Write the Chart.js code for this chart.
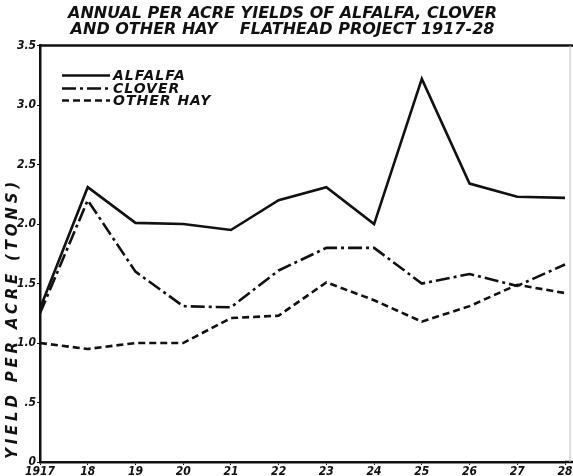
<!DOCTYPE html>
<html>
<head>
<meta charset="utf-8">
<script src="https://cdn.jsdelivr.net/npm/chart.js@4/dist/chart.umd.min.js"></script>
<style>
  html, body { margin: 0; padding: 0; background: #fff; }
  #c { display: block; }
</style>
</head>
<body>
<canvas id="c" width="573" height="476"></canvas>
<script>
// ---- data ----
const years = ['1917', '18', '19', '20', '21', '22', '23', '24', '25', '26', '27', '28'];
const alfalfa = [1.29, 2.31, 2.01, 2.0, 1.95, 2.2, 2.31, 2.0, 3.22, 2.34, 2.23, 2.22];
const clover = [1.25, 2.2, 1.6, 1.31, 1.3, 1.61, 1.8, 1.8, 1.5, 1.58, 1.48, 1.66];
const otherHay = [1.0, 0.95, 1.0, 1.0, 1.21, 1.23, 1.51, 1.36, 1.18, 1.31, 1.49, 1.42];
const yTickLabels = ['0', '.5', '1.0', '1.5', '2.0', '2.5', '3.0', '3.5'];
const titleLines = ['ANNUAL PER ACRE YIELDS OF ALFALFA, CLOVER', 'AND OTHER HAY    FLATHEAD PROJECT 1917-28'];
const yAxisTitle = 'YIELD PER ACRE (TONS)';
const seriesNames = ['ALFALFA', 'CLOVER', 'OTHER HAY'];

const INK = '#111';
const FONT = '"DejaVu Sans Condensed", "DejaVu Sans", sans-serif';
const WIDE = '"DejaVu Sans", sans-serif';

const dashSolid = [];
const dashDot = [14, 4, 3, 4];
const dashed = [7, 4];

const decor = {
  id: 'decor',
  afterDraw(chart) {
    const ctx = chart.ctx;
    const a = chart.chartArea;
    ctx.save();
    // top frame line
    ctx.strokeStyle = INK;
    ctx.lineWidth = 2.5;
    ctx.setLineDash([]);
    ctx.beginPath();
    ctx.moveTo(a.left - 1, a.top);
    ctx.lineTo(chart.width, a.top);
    ctx.stroke();
    // extend bottom axis to the right edge
    ctx.beginPath();
    ctx.moveTo(a.right, a.bottom);
    ctx.lineTo(chart.width, a.bottom);
    ctx.stroke();
    // faint right border
    ctx.strokeStyle = '#bbb';
    ctx.lineWidth = 1;
    ctx.beginPath();
    ctx.moveTo(chart.width - 3, a.top);
    ctx.lineTo(chart.width - 3, a.bottom);
    ctx.stroke();

    // legend inside plot
    const ds = chart.data.datasets;
    const lx0 = a.left + 22, lx1 = a.left + 70;
    const rows = [a.top + 30, a.top + 43, a.top + 55];
    ds.forEach((d, i) => {
      ctx.strokeStyle = INK;
      ctx.lineWidth = 2.5;
      ctx.setLineDash(d.borderDash || []);
      ctx.beginPath();
      ctx.moveTo(lx0, rows[i]);
      ctx.lineTo(lx1, rows[i]);
      ctx.stroke();
      ctx.setLineDash([]);
      ctx.fillStyle = INK;
      ctx.font = 'italic bold 14px ' + WIDE;
      ctx.letterSpacing = '1px';
      ctx.textAlign = 'left';
      ctx.textBaseline = 'middle';
      ctx.fillText(d.label, lx1 + 3, rows[i] + 1);
    });

    // rotated y axis title
    ctx.translate(13, 459);
    ctx.rotate(-Math.PI / 2);
    ctx.font = 'italic bold 15px ' + WIDE;
    ctx.letterSpacing = '3.8px';
    ctx.textAlign = 'left';
    ctx.textBaseline = 'middle';
    ctx.fillStyle = INK;
    ctx.fillText(yAxisTitle, 0, 0);
    ctx.restore();
  }
};

new Chart(document.getElementById('c'), {
  type: 'line',
  data: {
    labels: years,
    datasets: [
      { label: seriesNames[0], data: alfalfa, borderColor: INK, borderWidth: 2.6, borderDash: dashSolid, pointRadius: 0, tension: 0, fill: false },
      { label: seriesNames[1], data: clover, borderColor: INK, borderWidth: 2.6, borderDash: dashDot, pointRadius: 0, tension: 0, fill: false },
      { label: seriesNames[2], data: otherHay, borderColor: INK, borderWidth: 2.6, borderDash: dashed, pointRadius: 0, tension: 0, fill: false }
    ]
  },
  options: {
    responsive: false,
    animation: false,
    layout: { padding: { left: 0, right: 8, top: 0, bottom: 0 } },
    plugins: {
      legend: { display: false },
      tooltip: { enabled: false },
      title: {
        display: true,
        text: titleLines,
        color: INK,
        font: { family: WIDE, size: 16, style: 'italic', weight: 'bold', lineHeight: 1.05 },
        padding: { top: 5, bottom: 7 }
      }
    },
    scales: {
      x: {
        type: 'category',
        offset: false,
        grid: { drawOnChartArea: false, drawTicks: true, tickLength: 3, color: INK },
        border: { display: true, color: INK, width: 2.5 },
        ticks: { color: INK, font: { family: FONT, size: 12, style: 'italic', weight: 'bold' }, padding: 0, maxRotation: 0, autoSkip: false },
        afterFit(s) { s.height = 14; }
      },
      y: {
        min: 0, max: 3.5,
        grid: { drawOnChartArea: false, drawTicks: true, tickLength: 3, color: INK },
        border: { display: true, color: INK, width: 2.5 },
        ticks: {
          stepSize: 0.5,
          color: INK,
          padding: 1,
          font: { family: FONT, size: 12, style: 'italic', weight: 'bold' },
          callback: (v, i) => yTickLabels[i]
        },
        afterFit(s) { s.width = 40; }
      }
    }
  },
  plugins: [decor]
});
</script>
</body>
</html>
